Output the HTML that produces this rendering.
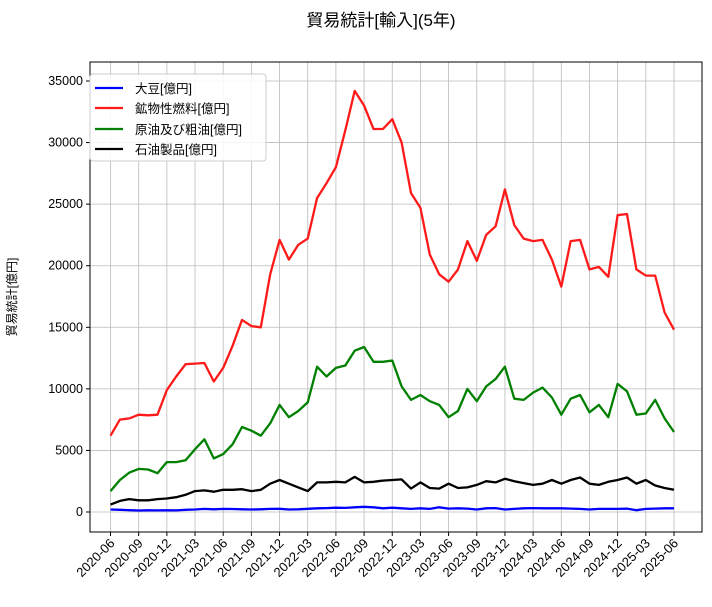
<!DOCTYPE html>
<html><head><meta charset="utf-8"><style>
body{margin:0;background:#fff;font-family:"Liberation Sans","Noto Sans CJK JP",sans-serif}
</style></head><body>
<svg id="c" width="712" height="602" xmlns="http://www.w3.org/2000/svg" font-family="'Liberation Sans','Noto Sans CJK JP',sans-serif">
<text x="381" y="26" text-anchor="middle" font-size="17">貿易統計[輸入](5年)</text>
<text transform="translate(16,297) rotate(-90)" text-anchor="middle" font-size="12">貿易統計[億円]</text>
<g id="grid"></g><g id="series"></g>
<rect x="90" y="62" width="612" height="470" fill="none" stroke="#000" stroke-width="1"/>
<g id="axes"></g>
<g>
<rect x="90" y="74" width="176" height="87" rx="3" fill="#fff" fill-opacity="0.85" stroke="#ccc"/>
<line x1="95" y1="88" x2="123" y2="88" stroke="blue" stroke-width="2.2"/>
<text x="135" y="93" font-size="12.5">大豆[億円]</text>
<line x1="95" y1="108" x2="123" y2="108" stroke="#ff1a1a" stroke-width="2.2"/>
<text x="135" y="113" font-size="12.5">鉱物性燃料[億円]</text>
<line x1="95" y1="129" x2="123" y2="129" stroke="green" stroke-width="2.2"/>
<text x="135" y="134" font-size="12.5">原油及び粗油[億円]</text>
<line x1="95" y1="149" x2="123" y2="149" stroke="#000" stroke-width="2.2"/>
<text x="135" y="154" font-size="12.5">石油製品[億円]</text>
</g>
</svg>
<script>
const soybean=[200,180,150,120,140,130,140,130,180,200,250,220,250,240,220,200,220,250,260,200,220,260,300,320,350,330,380,420,380,300,350,300,250,300,250,380,280,300,280,200,300,320,200,250,300,320,300,300,300,280,250,200,250,250,250,280,150,250,280,300,300];
const mineralFuel=[6200,7500,7600,7900,7850,7900,9900,11000,12000,12050,12100,10600,11700,13500,15600,15100,15000,19300,22100,20500,21700,22200,25500,26700,28000,31000,34200,33000,31100,31100,31900,30000,25900,24700,20900,19300,18700,19700,22000,20400,22500,23200,26200,23300,22200,22000,22100,20500,18300,22000,22100,19700,19900,19100,24100,24200,19700,19200,19200,16200,14800];
const crudeOil=[1700,2600,3200,3500,3450,3150,4050,4050,4200,5100,5900,4350,4700,5500,6900,6600,6200,7200,8700,7700,8200,8900,11800,11000,11700,11900,13100,13400,12200,12200,12300,10200,9100,9500,9000,8700,7700,8200,10000,9000,10200,10800,11800,9200,9100,9700,10100,9300,7900,9200,9500,8100,8700,7700,10400,9800,7900,8000,9100,7600,6500];
const petroleumProducts=[600,900,1050,950,950,1050,1100,1200,1400,1700,1750,1650,1800,1800,1850,1700,1800,2300,2600,2300,2000,1700,2400,2400,2450,2400,2850,2400,2450,2550,2600,2650,1900,2400,1950,1900,2300,1950,2000,2200,2500,2400,2700,2500,2350,2200,2300,2600,2300,2600,2800,2300,2200,2450,2600,2800,2300,2600,2150,1950,1800];
const yTicks=[0,5000,10000,15000,20000,25000,30000,35000];
const xTickLabels=["2020-06","2020-09","2020-12","2021-03","2021-06","2021-09","2021-12","2022-03","2022-06","2022-09","2022-12","2023-03","2023-06","2023-09","2023-12","2024-03","2024-06","2024-09","2024-12","2025-03","2025-06"];
const NS="http://www.w3.org/2000/svg";
const xs=i=>110.5+i*(674-110.5)/60;
const ys=v=>512-v*(431/35000);
const grid=document.getElementById('grid'),axes=document.getElementById('axes'),ser=document.getElementById('series');
function mk(tag,attrs,parent){const e=document.createElementNS(NS,tag);for(const k in attrs)e.setAttribute(k,attrs[k]);parent.appendChild(e);return e;}
yTicks.forEach(v=>{const y=ys(v);
const g=mk('line',{x1:90,x2:702,y1:y,y2:y,stroke:'#bbb','stroke-width':0.8},grid);


mk('line',{x1:86,x2:90,y1:y,y2:y,stroke:'#000'},axes);
const t=mk('text',{x:83,y:y+4,'text-anchor':'end','font-size':12.5},axes);t.textContent=v;


});
xTickLabels.forEach((l,k)=>{const x=xs(k*3);
const g=mk('line',{x1:x,x2:x,y1:62,y2:532,stroke:'#bbb','stroke-width':0.8},grid);


mk('line',{x1:x,x2:x,y1:532,y2:536,stroke:'#000'},axes);
const t=mk('text',{x:x+5,y:544,'text-anchor':'end','font-size':13,transform:`rotate(-45 ${x+5} 544)`},axes);t.textContent=l;


});
[[soybean,'blue','soybean-line'],[mineralFuel,'#ff1a1a','mineral-fuel-line'],[crudeOil,'green','crude-oil-line'],[petroleumProducts,'#000','petroleum-products-line']].forEach(([d,c,n])=>{
const p=mk('polyline',{points:d.map((v,i)=>xs(i).toFixed(1)+','+ys(v).toFixed(1)).join(' '),fill:'none',stroke:c,'stroke-width':2.3,'stroke-linejoin':'round'},ser);


});
</script>
</body></html>
